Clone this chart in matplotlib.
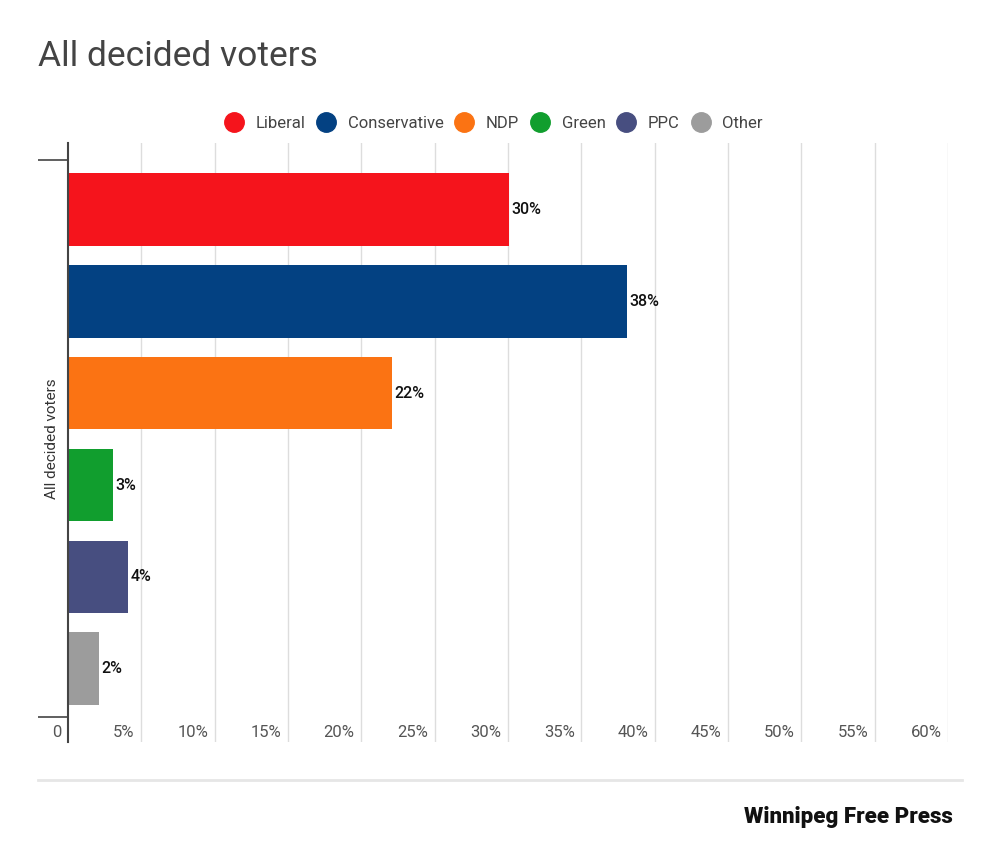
import matplotlib.pyplot as plt
from matplotlib.lines import Line2D

# data
parties = ['Liberal', 'Conservative', 'NDP', 'Green', 'PPC', 'Other']
shares = [30.1, 38.1, 22.1, 3.1, 4.1, 2.1]
labels = ['30%', '38%', '22%', '3%', '4%', '2%']
colors = ['#F5141C', '#034182', '#FB7313', '#119E2E', '#474E80', '#9C9C9C']
category = 'All decided voters'
xticks = list(range(0, 65, 5))
xtick_labels = ['0'] + [f'{t}%' for t in xticks[1:]]

plt.rcParams['font.family'] = ['Roboto', 'DejaVu Sans']

fig = plt.figure(figsize=(10, 8.59), dpi=100)
ax = fig.add_axes([0.068, 0.136, 0.880, 0.6975])

ypos = list(range(len(parties)))
ax.barh(ypos, shares, height=0.79, color=colors, zorder=3)
for y, v, lab in zip(ypos, shares, labels):
    ax.annotate(lab, (v, y), xytext=(1.5, 0), textcoords='offset points',
                va='center', ha='left', fontsize=11.5, fontweight='medium',
                color='#111111', zorder=4)

ax.set_xlim(0, 60)
ax.set_ylim(5.80, -0.724)

# vertical grid across the whole axes
for t in xticks[1:]:
    ax.axvline(t, color='#DDDDDD', lw=1, zorder=1)

# tick labels sit inside the plot, right-aligned against each gridline
ax.set_xticks([])
for t, lab in zip(xticks, xtick_labels):
    ax.text(t - 0.45, 5.70, lab, ha='right', va='center', fontsize=12,
            color='#555555')

ax.set_yticks([-0.535, 5.53])
ax.set_yticklabels([])
ax.tick_params(axis='y', length=21.6, width=1.2, color='#444444')

for s in ['top', 'right', 'bottom']:
    ax.spines[s].set_visible(False)
ax.spines['left'].set_color('#444444')
ax.spines['left'].set_linewidth(1.5)
ax.spines['left'].set_zorder(5)

ax.text(-0.018, 2.5, category, rotation=90, ha='center', va='center',
        fontsize=11, color='#333333', transform=ax.get_yaxis_transform())

# title
fig.text(0.038, 0.934, 'All decided voters', fontsize=25.5, color='#444444',
         ha='left', va='center')

# legend
handles = [Line2D([], [], marker='o', linestyle='none', markersize=14,
                  markerfacecolor=c, markeredgecolor=c) for c in colors]
fig.legend(handles, parties, loc='center', bbox_to_anchor=(0.494, 0.856),
           ncol=6, frameon=False, fontsize=12, handletextpad=0.8,
           columnspacing=0.75, labelcolor='#444444', handlelength=1.0)

# footer
fig.add_artist(Line2D([0.038, 0.962], [0.092, 0.092], color='#E6E6E6', lw=2))
fig.text(0.953, 0.049, 'Winnipeg Free Press', ha='right', va='center',
         fontsize=16, fontweight='black', color='#111111')

fig.savefig('out.png', dpi=100, facecolor='white')
